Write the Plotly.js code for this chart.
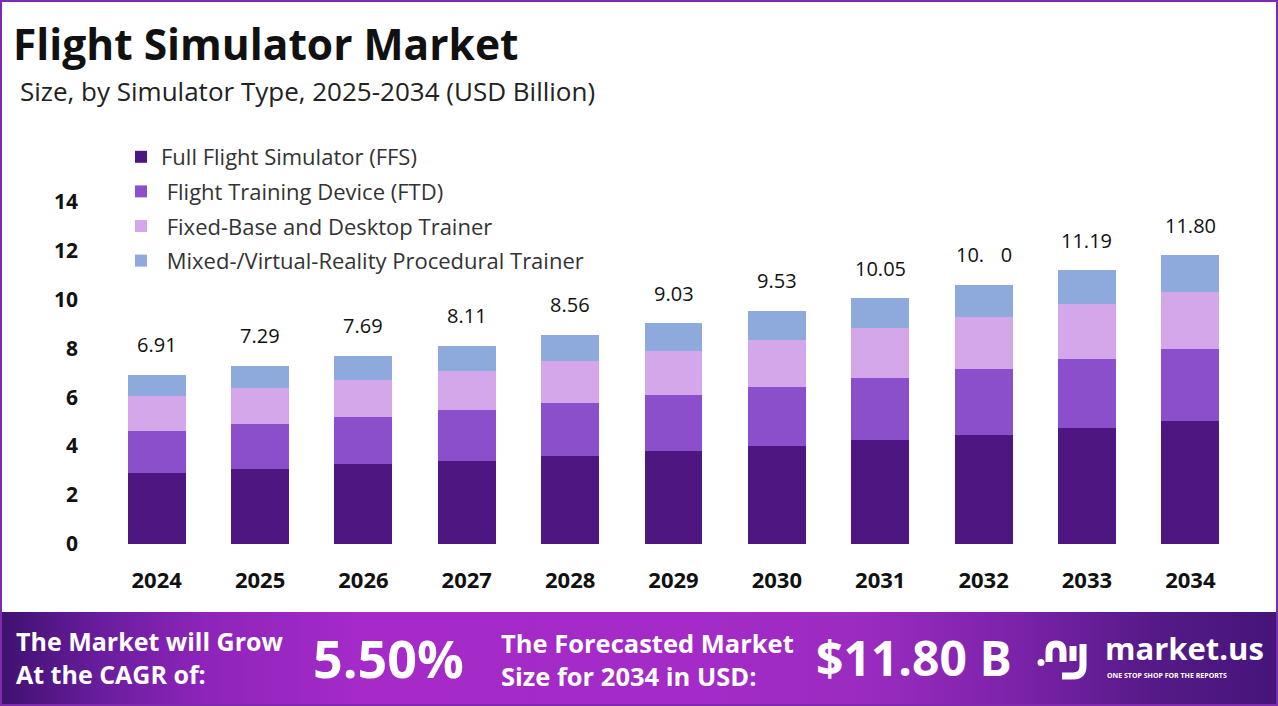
<!DOCTYPE html>
<html>
<head>
<meta charset="utf-8">
<script src="https://cdn.plot.ly/plotly-3.0.1.min.js"></script>
<style>
  html, body { margin:0; padding:0; background:#ffffff; }
  #wrap { position:relative; width:1278px; height:706px; overflow:hidden; background:#ffffff; }
  #footer { position:absolute; left:0; top:612px; width:1278px; height:94px;
    background: linear-gradient(90deg, #3f1170 0%, #6a1d9e 8%, #8e24ba 16%, #a52ac8 28%, #a42bc7 55%, #9a2bc0 68%, #7a22a8 80%, #561a88 90%, #45157a 100%); }
  #chart { position:absolute; left:0; top:0; width:1278px; height:706px; }
  #border { position:absolute; left:0; top:0; width:1278px; height:706px; box-sizing:border-box;
    border:2px solid #7d2aae; pointer-events:none; }
</style>
</head>
<body>
<div id="wrap">
  <div id="footer"></div>
  <div id="chart"></div>
  <div id="border"></div>
</div>
<script>
// ---------------- data ----------------
const years = ['2024','2025','2026','2027','2028','2029','2030','2031','2032','2033','2034'];
const ffs   = [2.90, 3.08, 3.25, 3.41, 3.61, 3.81, 4.02, 4.27, 4.47, 4.73, 5.01];
const ftd   = [1.73, 1.82, 1.94, 2.06, 2.14, 2.26, 2.38, 2.52, 2.67, 2.84, 2.97];
const fixedBase = [1.40, 1.48, 1.52, 1.61, 1.74, 1.81, 1.93, 2.02, 2.14, 2.22, 2.34];
const mixedVR   = [0.88, 0.91, 0.98, 1.03, 1.07, 1.15, 1.20, 1.24, 1.32, 1.40, 1.48];
const totals    = [6.91, 7.29, 7.69, 8.11, 8.56, 9.03, 9.53, 10.05, 10.60, 11.19, 11.80];
const totalLabels = ['6.91','7.29','7.69','8.11','8.56','9.03','9.53','10.05','10.\u2007\u00a00','11.19','11.80'];
const seriesNames = ['Full Flight Simulator (FFS)', '\u00a0Flight Training Device (FTD)', '\u00a0Fixed-Base and Desktop Trainer', '\u00a0Mixed-/Virtual-Reality Procedural Trainer'];
const yTicks = [0, 2, 4, 6, 8, 10, 12, 14];
const cagrText = '5.50%';
const forecastText = '$11.80 B';

// ---------------- layout helpers ----------------
const W = 1278, H = 706, L = 105, R = 36, T = 177, B = 162;
const PW = W - L - R, PH = H - T - B;
const px = x => (x - L) / PW;
const py = y => (H - B - y) / PH;
const FONT = 'Open Sans, Lato, sans-serif';
const colors = ['#4e1681', '#8c4fcc', '#d4a7eb', '#8eaadc'];
const seriesVals = [ffs, ftd, fixedBase, mixedVR];

const traces = seriesVals.map((vals, i) => ({
  type: 'bar',
  x: years,
  y: vals,
  name: seriesNames[i],
  legendgroup: 'g' + i,
  marker: { color: colors[i], line: { width: 0 } },
  hoverinfo: 'skip'
}));

const annotations = [];
// value labels on bars (x given as category index)
years.forEach((yr, i) => {
  annotations.push({
    x: i, y: totals[i], xref: 'x', yref: 'y',
    text: totalLabels[i], showarrow: false,
    yanchor: 'middle', yshift: 30,
    font: { family: FONT, size: 20, color: '#111111' }
  });
});
// subtitle
annotations.push({
  xref: 'paper', yref: 'paper', x: px(18), y: py(91), xanchor: 'left', yanchor: 'middle',
  text: 'Size, by Simulator Type, 2025-2034 (USD Billion)', showarrow: false,
  font: { family: FONT, size: 26, color: '#222222' }
});
// footer texts
const white = '#ffffff';
annotations.push({
  xref: 'paper', yref: 'paper', x: px(14), y: py(657), xanchor: 'left', yanchor: 'middle',
  text: 'The Market will Grow<br>At the CAGR of:', showarrow: false, align: 'left',
  font: { family: FONT, size: 25, color: white, weight: 'bold' }
});
annotations.push({
  xref: 'paper', yref: 'paper', x: px(388), y: py(657), xanchor: 'center', yanchor: 'middle',
  text: cagrText, showarrow: false,
  font: { family: FONT, size: 52, color: white, weight: 'bold' }
});
annotations.push({
  xref: 'paper', yref: 'paper', x: px(499), y: py(659), xanchor: 'left', yanchor: 'middle',
  text: 'The Forecasted Market<br>Size for 2034 in USD:', showarrow: false, align: 'left',
  font: { family: FONT, size: 25.5, color: white, weight: 'bold' }
});
annotations.push({
  xref: 'paper', yref: 'paper', x: px(914), y: py(657), xanchor: 'center', yanchor: 'middle',
  text: forecastText, showarrow: false,
  font: { family: FONT, size: 48, color: white, weight: 'bold' }
});
annotations.push({
  xref: 'paper', yref: 'paper', x: px(1103), y: py(648), xanchor: 'left', yanchor: 'middle',
  text: 'market.us', showarrow: false,
  font: { family: FONT, size: 31, color: white, weight: 'bold' }
});
annotations.push({
  xref: 'paper', yref: 'paper', x: px(1105), y: py(675), xanchor: 'left', yanchor: 'middle',
  text: 'ONE STOP SHOP FOR THE REPORTS', showarrow: false,
  font: { family: FONT, size: 7, color: white, weight: 'bold' }
});

// logo icon shapes
const P = (x, y) => px(x).toFixed(5) + ',' + py(y).toFixed(5);
const shapes = [
  { type: 'circle', xref: 'paper', yref: 'paper', x0: px(1037.5), x1: px(1044.5), y0: py(666), y1: py(659),
    fillcolor: white, line: { width: 0 } },
  { type: 'path', xref: 'paper', yref: 'paper',
    path: 'M' + P(1049, 662) + ' L' + P(1049, 652) + ' Q' + P(1049, 644) + ' ' + P(1056, 644) + ' Q' + P(1063, 644) + ' ' + P(1063, 652) + ' L' + P(1063, 662),
    line: { color: white, width: 7 } },
  { type: 'path', xref: 'paper', yref: 'paper',
    path: 'M' + P(1073, 646) + ' L' + P(1073, 661),
    line: { color: white, width: 7 } },
  { type: 'path', xref: 'paper', yref: 'paper',
    path: 'M' + P(1083, 644) + ' L' + P(1083, 666) + ' Q' + P(1083, 676) + ' ' + P(1073, 676) + ' L' + P(1062, 676),
    line: { color: white, width: 7 } }
];

const layout = {
  width: W, height: H,
  margin: { l: L, r: R, t: T, b: B, pad: 0 },
  paper_bgcolor: 'rgba(0,0,0,0)',
  plot_bgcolor: 'rgba(0,0,0,0)',
  barmode: 'stack',
  bargap: 0.44,
  showlegend: true,
  title: {
    text: 'Flight Simulator Market',
    xref: 'container', yref: 'container',
    x: 13 / W, xanchor: 'left', y: 1 - 45 / H, yanchor: 'middle',
    font: { family: FONT, size: 42.5, color: '#111111', weight: 'bold' }
  },
  legend: {
    x: px(121), y: py(136), xanchor: 'left', yanchor: 'top',
    traceorder: 'grouped', tracegroupgap: 3,
    bgcolor: 'rgba(0,0,0,0)',
    font: { family: FONT, size: 22, color: '#333333' }
  },
  xaxis: {
    type: 'category',
    range: [-0.5, years.length - 0.5],
    showgrid: false, zeroline: false, showline: false,
    ticks: '', ticklabelstandoff: 21,
    tickfont: { family: FONT, size: 22, color: '#111111', weight: 'bold' },
    fixedrange: true
  },
  yaxis: {
    range: [0, 15],
    tickvals: yTicks,
    ticktext: yTicks.map(String),
    showgrid: false, zeroline: false, showline: false,
    ticks: '', ticklabelstandoff: 26,
    tickfont: { family: FONT, size: 21, color: '#111111', weight: 'bold' },
    fixedrange: true
  },
  annotations: annotations,
  shapes: shapes
};

Plotly.newPlot('chart', traces, layout, { displayModeBar: false, staticPlot: true });
</script>
</body>
</html>
